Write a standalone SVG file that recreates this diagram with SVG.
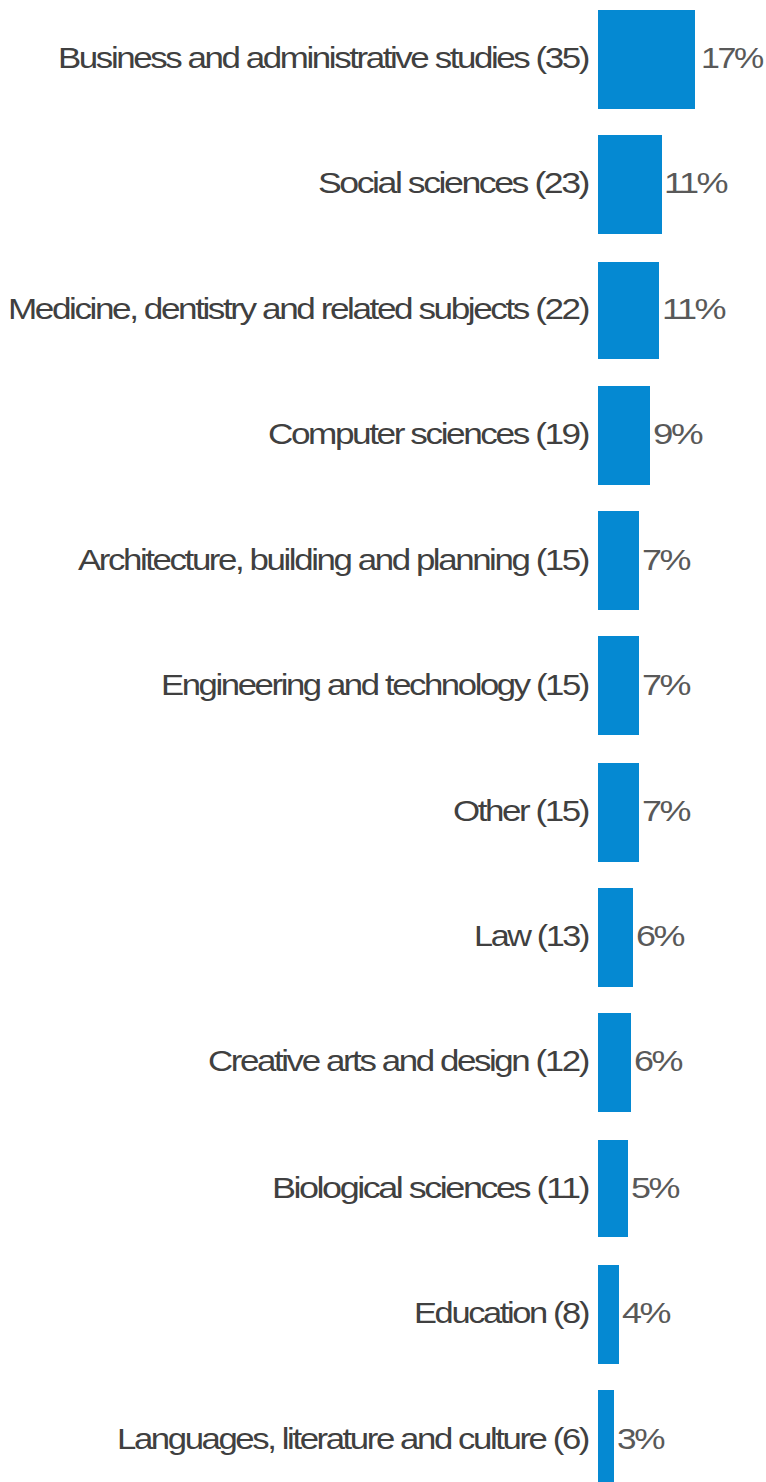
<svg xmlns="http://www.w3.org/2000/svg" width="766" height="1482" viewBox="0 0 766 1482">
<style>
.bar{fill:#0589D2}
.lbl{font-family:"Liberation Sans",Arial,sans-serif;font-size:29px;letter-spacing:-2px;fill:#404040;text-anchor:end}
.pct{font-family:"Liberation Sans",Arial,sans-serif;font-size:29px;letter-spacing:-2px;fill:#595959;text-anchor:start}
</style>
<rect width="766" height="1482" fill="#ffffff"/>
<g id="row1"><rect class="bar" x="598" y="10" width="97" height="99"/><text class="lbl" x="588" y="68" textLength="530" lengthAdjust="spacingAndGlyphs">Business and administrative studies (35)</text><text class="pct" x="701" y="68" textLength="61" lengthAdjust="spacingAndGlyphs">17%</text></g>
<g id="row2"><rect class="bar" x="598" y="135" width="64" height="99"/><text class="lbl" x="588" y="193" textLength="270" lengthAdjust="spacingAndGlyphs">Social sciences (23)</text><text class="pct" x="664" y="193" textLength="62" lengthAdjust="spacingAndGlyphs">11%</text></g>
<g id="row3"><rect class="bar" x="598" y="262" width="61" height="97"/><text class="lbl" x="588" y="319" textLength="580" lengthAdjust="spacingAndGlyphs">Medicine, dentistry and related subjects (22)</text><text class="pct" x="662" y="319" textLength="62" lengthAdjust="spacingAndGlyphs">11%</text></g>
<g id="row4"><rect class="bar" x="598" y="386" width="52" height="99"/><text class="lbl" x="588" y="444" textLength="320" lengthAdjust="spacingAndGlyphs">Computer sciences (19)</text><text class="pct" x="653" y="444" textLength="48" lengthAdjust="spacingAndGlyphs">9%</text></g>
<g id="row5"><rect class="bar" x="598" y="511" width="41" height="99"/><text class="lbl" x="588" y="570" textLength="510" lengthAdjust="spacingAndGlyphs">Architecture, building and planning (15)</text><text class="pct" x="642" y="570" textLength="47" lengthAdjust="spacingAndGlyphs">7%</text></g>
<g id="row6"><rect class="bar" x="598" y="636" width="41" height="99"/><text class="lbl" x="588" y="695" textLength="427" lengthAdjust="spacingAndGlyphs">Engineering and technology (15)</text><text class="pct" x="642" y="695" textLength="47" lengthAdjust="spacingAndGlyphs">7%</text></g>
<g id="row7"><rect class="bar" x="598" y="763" width="41" height="99"/><text class="lbl" x="588" y="821" textLength="135" lengthAdjust="spacingAndGlyphs">Other (15)</text><text class="pct" x="642" y="821" textLength="47" lengthAdjust="spacingAndGlyphs">7%</text></g>
<g id="row8"><rect class="bar" x="598" y="888" width="35" height="99"/><text class="lbl" x="588" y="946" textLength="114" lengthAdjust="spacingAndGlyphs">Law (13)</text><text class="pct" x="636" y="946" textLength="47" lengthAdjust="spacingAndGlyphs">6%</text></g>
<g id="row9"><rect class="bar" x="598" y="1013" width="33" height="99"/><text class="lbl" x="588" y="1071" textLength="380" lengthAdjust="spacingAndGlyphs">Creative arts and design (12)</text><text class="pct" x="634" y="1071" textLength="47" lengthAdjust="spacingAndGlyphs">6%</text></g>
<g id="row10"><rect class="bar" x="598" y="1140" width="30" height="97"/><text class="lbl" x="588" y="1198" textLength="316" lengthAdjust="spacingAndGlyphs">Biological sciences (11)</text><text class="pct" x="631" y="1198" textLength="47" lengthAdjust="spacingAndGlyphs">5%</text></g>
<g id="row11"><rect class="bar" x="598" y="1265" width="21" height="99"/><text class="lbl" x="588" y="1323" textLength="174" lengthAdjust="spacingAndGlyphs">Education (8)</text><text class="pct" x="622" y="1323" textLength="47" lengthAdjust="spacingAndGlyphs">4%</text></g>
<g id="row12"><rect class="bar" x="598" y="1390" width="16" height="92"/><text class="lbl" x="588" y="1449" textLength="471" lengthAdjust="spacingAndGlyphs">Languages, literature and culture (6)</text><text class="pct" x="617" y="1449" textLength="46" lengthAdjust="spacingAndGlyphs">3%</text></g>
<g id="connectors"/>
</svg>
